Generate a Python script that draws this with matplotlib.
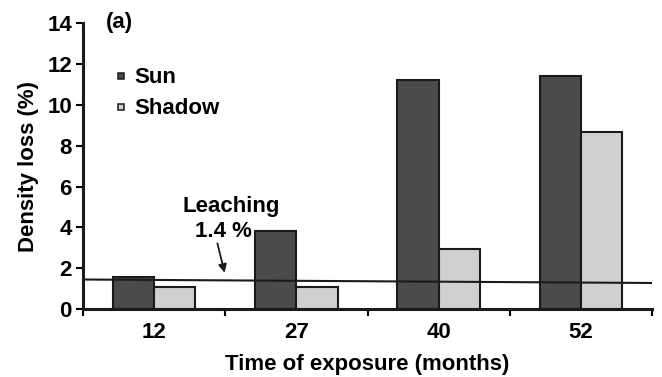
import numpy as np
import matplotlib
matplotlib.use("Agg")
import matplotlib.pyplot as plt
from matplotlib.lines import Line2D

plt.rcParams["font.family"] = ["Liberation Sans", "DejaVu Sans"]
plt.rcParams["font.weight"] = "bold"

months = ["12", "27", "40", "52"]
sun = [1.55, 3.82, 11.2, 11.4]
shadow = [1.1, 1.1, 2.93, 8.65]
leach_ends = [1.45, 1.28]

x = np.arange(len(months))
w = 0.29
fs = 16
sun_c = "#4a4b4d"
shadow_c = "#cfd0d2"
edge_c = "#1a1a1a"

fig = plt.figure(figsize=(6.62, 3.77), dpi=100)
ax = fig.add_axes([0.1254, 0.180, 0.8596, 0.759])

ax.bar(x - w / 2, sun, w, color=sun_c, edgecolor=edge_c, linewidth=1.5, zorder=2)
ax.bar(x + w / 2, shadow, w, color=shadow_c, edgecolor=edge_c, linewidth=1.5, zorder=2)

ax.plot([-0.5, 3.5], leach_ends, color=edge_c, linewidth=1.5, zorder=3)

ax.set_xlim(-0.5, 3.5)
ax.set_ylim(0, 14)
ax.set_yticks(np.arange(0, 15, 2))
ax.set_xticks(x)
ax.set_xticklabels(months)
ax.set_xticks(np.arange(-0.5, 3.6, 1), minor=True)
ax.tick_params(axis="x", which="major", length=0, pad=9, labelsize=fs)
ax.tick_params(axis="x", which="minor", length=5, width=1.5, direction="out")
ax.tick_params(axis="y", length=5, width=1.5, labelsize=fs, pad=3)

for s in ["top", "right"]:
    ax.spines[s].set_visible(False)
for s in ["left", "bottom"]:
    ax.spines[s].set_linewidth(2.2)
    ax.spines[s].set_color(edge_c)

ax.set_xlabel("Time of exposure (months)", fontsize=fs, fontweight="bold", labelpad=8)
ax.set_ylabel("Density loss (%)", fontsize=fs, fontweight="bold", labelpad=6)

ax.text(0.04, 0.965, "(a)", transform=ax.transAxes, fontsize=fs, fontweight="bold", va="bottom")

ax.annotate("", xy=(0.50, 1.65), xytext=(0.44, 3.35),
            arrowprops=dict(arrowstyle="-|>", color=edge_c, lw=1.3, mutation_scale=12))
ax.text(0.54, 4.75, "Leaching", ha="center", va="baseline", fontsize=fs, fontweight="bold")
ax.text(0.49, 3.53, "1.4 %", ha="center", va="baseline", fontsize=fs, fontweight="bold")

handles = [
    Line2D([], [], linestyle="none", marker="s", markersize=5, markerfacecolor=sun_c,
           markeredgecolor=edge_c, markeredgewidth=1.1),
    Line2D([], [], linestyle="none", marker="s", markersize=5, markerfacecolor=shadow_c,
           markeredgecolor=edge_c, markeredgewidth=1.1),
]
ax.legend(handles, ["Sun", "Shadow"], loc="upper left", bbox_to_anchor=(0.02, 0.915),
          frameon=False, fontsize=fs, handlelength=0.6, handletextpad=0.3, labelspacing=0.45)

fig.savefig("out.png", dpi=100)
